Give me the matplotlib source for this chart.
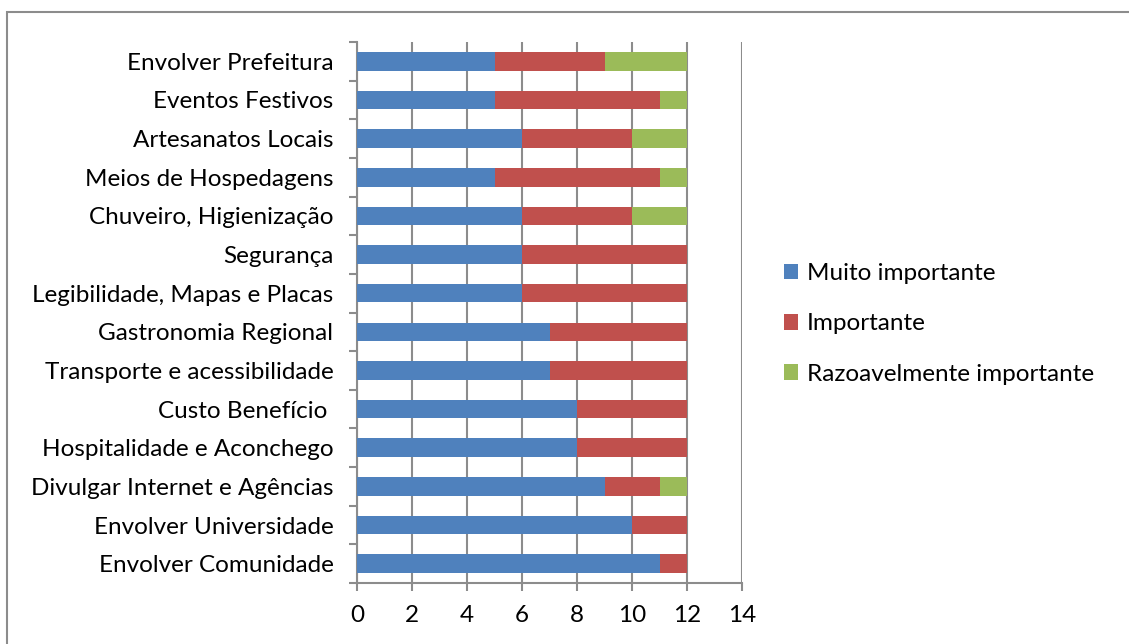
import numpy as np
import matplotlib.pyplot as plt
from matplotlib.patches import Rectangle

categories = ['Envolver Comunidade', 'Envolver Universidade', 'Divulgar Internet e Agências',
              'Hospitalidade e Aconchego', 'Custo Benefício ', 'Transporte e acessibilidade',
              'Gastronomia Regional', 'Legibilidade, Mapas e Placas', 'Segurança',
              'Chuveiro, Higienização', 'Meios de Hospedagens', 'Artesanatos Locais',
              'Eventos Festivos', 'Envolver Prefeitura']
muito = [11, 10, 9, 8, 8, 7, 7, 6, 6, 6, 5, 6, 5, 5]
importante = [1, 2, 2, 4, 4, 5, 5, 6, 6, 4, 6, 4, 6, 4]
razoavel = [0, 0, 1, 0, 0, 0, 0, 0, 0, 2, 1, 2, 1, 3]
series = ['Muito importante', 'Importante', 'Razoavelmente importante']
colors = ['#4f81bd', '#c0504d', '#9bbb59']

plt.rcParams['font.family'] = ['Lato', 'DejaVu Sans']
fs = 17.5

W, H = 1129, 644
fig = plt.figure(figsize=(W / 100, H / 100), dpi=100)
fig.patches.append(Rectangle((7 / W, -0.05), 1.1, 1 - 12 / H + 0.05, transform=fig.transFigure,
                             fill=False, edgecolor='#8c8c8c', linewidth=1.5))

ax = fig.add_axes([357 / W, 1 - 583 / H, (742 - 357) / W, (583 - 42) / H])
y = np.arange(len(categories))
left = np.zeros(len(categories))
for vals, name, c in zip([muito, importante, razoavel], series, colors):
    ax.barh(y, vals, left=left, height=0.48, color=c, label=name, zorder=3)
    left += np.array(vals)

ax.set_xlim(0, 14)
ax.set_ylim(-0.5, len(categories) - 0.5)
ax.set_xticks(range(0, 15, 2))
ax.set_yticks(y)
ax.set_yticklabels(categories)
ax.set_yticks(np.arange(-0.5, len(categories), 1), minor=True)
ax.tick_params(axis='y', which='major', length=0, pad=17, labelsize=fs, colors='#000000')
ax.tick_params(axis='y', which='minor', length=6, width=1.5, color='#8c8c8c')
ax.tick_params(axis='x', length=6, width=1.5, color='#8c8c8c', labelsize=fs, pad=10)
ax.grid(axis='x', color='#8c8c8c', linewidth=1.5, zorder=0)
for s in ['top', 'right']:
    ax.spines[s].set_visible(False)
for s in ['left', 'bottom']:
    ax.spines[s].set_color('#8c8c8c')
    ax.spines[s].set_linewidth(1.5)

ax.legend(loc='center left', bbox_to_anchor=(762 / W, 1 - 324 / H), bbox_transform=fig.transFigure,
          frameon=False, fontsize=fs, handlelength=0.6, handleheight=0.6, handletextpad=0.35,
          labelspacing=1.2)

fig.savefig('out.png', dpi=100)
